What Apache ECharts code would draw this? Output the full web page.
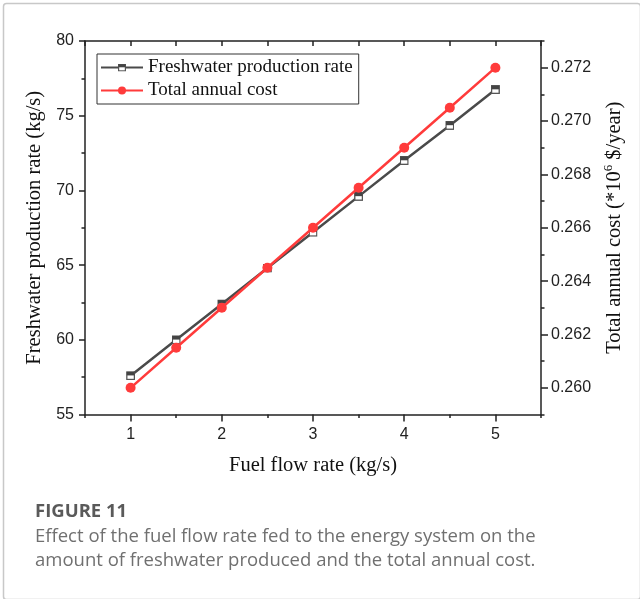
<!DOCTYPE html>
<html>
<head>
<meta charset="utf-8">
<script src="https://cdn.jsdelivr.net/npm/echarts@6/dist/echarts.min.js"></script>
<style>
  html, body { margin: 0; padding: 0; background: #fff; }
  #chart { width: 640px; height: 599px; }
</style>
</head>
<body>
<div id="chart"></div>
<script>
// data
let fuelFlow = [1, 1.5, 2, 2.5, 3, 3.5, 4, 4.5, 5];
let freshwater = [57.6, 60.0, 62.4, 64.8, 67.2, 69.6, 72.0, 74.35, 76.75];
let annualCost = [0.260, 0.2615, 0.263, 0.2645, 0.266, 0.2675, 0.269, 0.2705, 0.272];
let xTicks = [1, 2, 3, 4, 5];
let costTicks = [0.260, 0.262, 0.264, 0.266, 0.268, 0.270, 0.272];

let serif = '"Liberation Serif", "Times New Roman", serif';
let sans = '"Liberation Sans", Arial, sans-serif';
let axisColor = '#222';

// half filled square marker
let sq = '<svg xmlns="http://www.w3.org/2000/svg" width="20" height="20" viewBox="0 0 20 20">' +
    '<rect x="1.5" y="1.5" width="17" height="17" fill="#fff" stroke="#555" stroke-width="3"/>' +
    '<rect x="1.5" y="1.5" width="17" height="8" fill="#444"/></svg>';
let sqSymbol = 'image://data:image/svg+xml;utf8,' + encodeURIComponent(sq);

function pairs(xs, ys) {
    return xs.map(function (x, i) { return [x, ys[i]]; });
}

let myChart = echarts.init(document.getElementById('chart'));
let option = {
    backgroundColor: '#fff',
    animation: false,
    grid: { left: 85, top: 41, right: 99, bottom: 184.5 },
    legend: {
        orient: 'vertical',
        left: 97,
        top: 54,
        padding: [4, 6, 4, 3],
        itemGap: 4,
        itemWidth: 42,
        itemHeight: 10,
        borderColor: '#333',
        borderWidth: 1,
        borderRadius: 0,
        textStyle: { fontFamily: serif, fontSize: 19, color: '#111', lineHeight: 19 },
        data: ['Freshwater production rate', 'Total annual cost']
    },
    xAxis: [
        {
            type: 'value', position: 'bottom', min: 0.5, max: 5.5, interval: 0.5,
            name: 'Fuel flow rate (kg/s)', nameLocation: 'middle', nameGap: 41,
            nameTextStyle: { fontFamily: serif, fontSize: 20.5, color: '#111' },
            axisLine: { show: true, lineStyle: { color: axisColor, width: 1.5 } },
            axisTick: { show: true, length: 3.5, lineStyle: { color: axisColor, width: 1.5 } },
            axisLabel: {
                fontFamily: sans, fontSize: 16, color: '#222', margin: 12,
                formatter: function (v) { return Number.isInteger(v) && v >= 1 && v <= 5 ? String(v) : ''; }
            },
            splitLine: { show: false }
        },
        {
            type: 'value', position: 'bottom', min: 0.5, max: 5.5,
            axisLine: { show: false },
            axisTick: { show: true, length: 7, customValues: xTicks, lineStyle: { color: axisColor, width: 1.5 } },
            axisLabel: { show: false },
            splitLine: { show: false }
        },
        {
            type: 'value', position: 'top', min: 0.5, max: 5.5, interval: 0.5,
            axisLine: { show: true, lineStyle: { color: axisColor, width: 1.5 } },
            axisTick: { show: true, inside: true, length: 5, lineStyle: { color: axisColor, width: 1.5 } },
            axisLabel: { show: false },
            splitLine: { show: false }
        }
    ],
    yAxis: [
        {
            type: 'value', position: 'left', min: 55, max: 80, interval: 5,
            name: 'Freshwater production rate (kg/s)', nameLocation: 'middle', nameGap: 39, nameRotate: 90,
            nameTextStyle: { fontFamily: serif, fontSize: 20.5, color: '#111' },
            axisLine: { show: true, lineStyle: { color: axisColor, width: 1.5 } },
            axisTick: { show: true, length: 6, lineStyle: { color: axisColor, width: 1.5 } },
            minorTick: { show: true, splitNumber: 2, length: 3.5, lineStyle: { color: axisColor, width: 1.5 } },
            axisLabel: { fontFamily: sans, fontSize: 16, color: '#222', margin: 11 },
            splitLine: { show: false }
        },
        {
            type: 'value', position: 'right', min: 0.259, max: 0.273, interval: 0.001,
            name: 'Total annual cost (*10{sup|6} $/year)', nameLocation: 'middle', nameGap: 58, nameRotate: 90,
            nameTextStyle: {
                fontFamily: serif, fontSize: 20.5, color: '#111',
                rich: { sup: { fontFamily: serif, fontSize: 13, color: '#111', padding: [0, 0, 12, 0] } }
            },
            axisLine: { show: true, lineStyle: { color: axisColor, width: 1.5 } },
            axisTick: { show: true, length: 3.5, lineStyle: { color: axisColor, width: 1.5 } },
            axisLabel: {
                fontFamily: sans, fontSize: 16, color: '#222', margin: 10,
                formatter: function (v) { return Math.round(v * 1000) % 2 === 0 ? v.toFixed(3) : ''; }
            },
            splitLine: { show: false }
        },
        {
            type: 'value', position: 'right', min: 0.259, max: 0.273,
            axisLine: { show: false },
            axisTick: { show: true, length: 7, customValues: costTicks, lineStyle: { color: axisColor, width: 1.5 } },
            axisLabel: { show: false },
            splitLine: { show: false }
        }
    ],
    series: [
        {
            name: 'Freshwater production rate',
            type: 'line',
            xAxisIndex: 0,
            yAxisIndex: 0,
            data: pairs(fuelFlow, freshwater),
            symbol: sqSymbol,
            symbolSize: 9,
            itemStyle: { color: '#4a4a4a' },
            lineStyle: { color: '#4a4a4a', width: 2.5 },
            z: 3
        },
        {
            name: 'Total annual cost',
            type: 'line',
            xAxisIndex: 0,
            yAxisIndex: 1,
            data: pairs(fuelFlow, annualCost),
            symbol: 'circle',
            symbolSize: 10,
            itemStyle: { color: '#ff3b3b' },
            lineStyle: { color: '#ff3b3b', width: 2.5 },
            z: 4
        }
    ],
    graphic: [
        {
            type: 'rect', left: 1, top: 1, silent: true,
            shape: { width: 637, height: 596, r: 3 },
            style: { fill: 'none', stroke: '#c8c8c8', lineWidth: 1.5 }
        },
        {
            type: 'text', left: 35, top: 502,
            style: { text: 'FIGURE 11', fontFamily: '"Open Sans", sans-serif', fontWeight: 'bold', fontSize: 18.5, fill: '#5a5a5a' }
        },
        {
            type: 'text', left: 35, top: 525,
            style: {
                text: 'Effect of the fuel flow rate fed to the energy system on the\namount of freshwater produced and the total annual cost.',
                fontFamily: '"Open Sans", sans-serif', fontSize: 18.5, lineHeight: 24, fill: '#707070'
            }
        }
    ]
};
myChart.setOption(option);
</script>
</body>
</html>
